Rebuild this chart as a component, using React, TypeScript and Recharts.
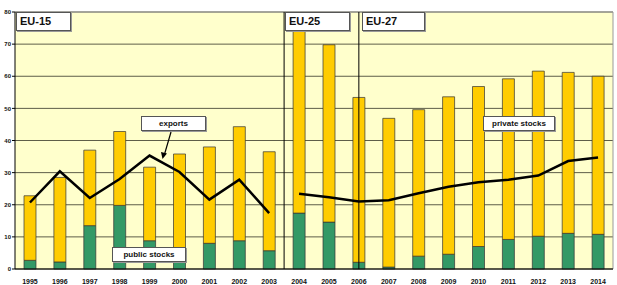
import React from "react";
import {
  ComposedChart,
  Bar,
  Line,
  XAxis,
  YAxis,
  CartesianGrid,
  ReferenceLine,
} from "recharts";

const YEARS = [
  "1995", "1996", "1997", "1998", "1999", "2000", "2001", "2002", "2003", "2004",
  "2005", "2006", "2007", "2008", "2009", "2010", "2011", "2012", "2013", "2014",
];

const PUBLIC_STOCKS = [
  2.7, 2.2, 13.5, 19.8, 8.8, 5.0, 8.0, 8.8, 5.7, 17.4,
  14.6, 2.1, 0.6, 4.0, 4.6, 7.0, 9.2, 10.2, 11.1, 10.8,
];

const PRIVATE_STOCKS = [
  20.1, 26.3, 23.5, 23.0, 22.9, 30.8, 30.0, 35.5, 30.8, 58.0,
  55.2, 51.3, 46.3, 45.6, 49.0, 49.8, 50.0, 51.4, 50.1, 49.2,
];

// EU-15 period exports, then EU-25/27 period exports (line is broken in 2003/2004)
const EXPORTS_EU15 = [20.7, 30.4, 22.1, 28.0, 35.3, 30.2, 21.6, 27.8, 17.4];
const EXPORTS_EU27 = [23.4, 22.3, 21.0, 21.4, 23.6, 25.6, 27.0, 27.8, 29.1, 33.6, 34.7];

const Y_TICKS = [0, 10, 20, 30, 40, 50, 60, 70, 80];

const GREEN = "#339966";
const YELLOW = "#FFCC00";
const PLOT_BG = "#FFFFCC";
const GRID = "#5e5e48";

const data = YEARS.map((year, i) => ({
  year,
  pub: PUBLIC_STOCKS[i],
  priv: PRIVATE_STOCKS[i],
  expA: i < EXPORTS_EU15.length ? EXPORTS_EU15[i] : null,
  expB: i >= EXPORTS_EU15.length ? EXPORTS_EU27[i - EXPORTS_EU15.length] : null,
}));

const boxBase: React.CSSProperties = {
  position: "absolute",
  background: "#fff",
  border: "1px solid #555",
  boxShadow: "1px 1px 0 #999",
  fontFamily: "Arial, 'Liberation Sans', sans-serif",
  fontWeight: 700,
  color: "#111",
  boxSizing: "border-box",
  whiteSpace: "nowrap",
};

function Box({ x, y, w, h, text, size, align }: {
  x: number; y: number; w: number; h: number; text: string; size: number; align?: "left" | "center";
}) {
  return (
    <div
      style={{
        ...boxBase,
        left: x,
        top: y,
        width: w,
        height: h,
        fontSize: size,
        lineHeight: `${h - 2}px`,
        textAlign: align ?? "center",
        paddingLeft: align === "left" ? 3 : 0,
      }}
    >
      {text}
    </div>
  );
}

export default function App() {
  return (
    <div style={{ position: "absolute", left: 0, top: 0, width: 617, height: 285, background: "#fff" }}>
      <ComposedChart
        width={617}
        height={285}
        data={data}
        margin={{ top: 12, right: 4, left: 0, bottom: 0 }}
        barCategoryGap={0}
      >
        <CartesianGrid fill={PLOT_BG} stroke={GRID} vertical={false} strokeWidth={1} />
        <XAxis
          dataKey="year"
          height={16}
          tickLine={false}
          axisLine={{ stroke: "#000" }}
          interval={0}
          tick={{ fontSize: 7, fontWeight: 700, fill: "#111", fontFamily: "Arial" }}
          tickMargin={4}
        />
        <YAxis
          width={15}
          domain={[0, 80]}
          ticks={Y_TICKS}
          interval={0}
          tickSize={3}
          tickLine={{ stroke: "#000" }}
          axisLine={{ stroke: "#000" }}
          tick={{ fontSize: 6, fontWeight: 700, fill: "#111", fontFamily: "Arial" }}
          tickMargin={1}
        />
        <ReferenceLine y={80} stroke="#999" />
        <ReferenceLine x="2014" position="end" stroke="#999" />
        <Bar dataKey="pub" stackId="s" fill={GREEN} stroke="#333" strokeWidth={0.7} barSize={12} isAnimationActive={false} />
        <Bar dataKey="priv" stackId="s" fill={YELLOW} stroke="#333" strokeWidth={0.7} barSize={12} isAnimationActive={false} />
        <ReferenceLine x="2003" position="end" stroke="#000" strokeWidth={1} />
        <ReferenceLine x="2006" stroke="#000" strokeWidth={1} />
        <Line dataKey="expA" stroke="#000" strokeWidth={2.5} dot={false} connectNulls={false} isAnimationActive={false} />
        <Line dataKey="expB" stroke="#000" strokeWidth={2.5} dot={false} connectNulls={false} isAnimationActive={false} />
      </ComposedChart>
      <Box x={16} y={12} w={55} h={19} text="EU-15" size={11} align="left" />
      <Box x={285} y={12} w={65} h={19} text="EU-25" size={11} align="left" />
      <Box x={362} y={12} w={63} h={19} text="EU-27" size={11} align="left" />
      <Box x={141} y={116} w={65} h={15} text="exports" size={8} />
      <Box x={112} y={247} w={74} h={15} text="public stocks" size={8} />
      <Box x={483} y={116} w={72} h={15} text="private stocks" size={8} />
      <svg width={617} height={285} style={{ position: "absolute", left: 0, top: 0, pointerEvents: "none" }}>
        <line x1={171} y1={132} x2={164} y2={156} stroke="#000" strokeWidth={1.2} />
        <polygon points="162.5,159 161,152 167,153.5" fill="#000" />
      </svg>
    </div>
  );
}
